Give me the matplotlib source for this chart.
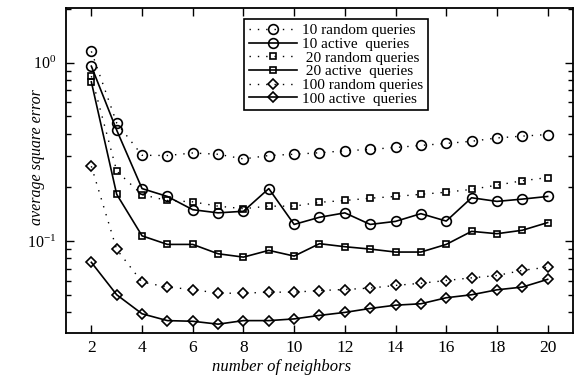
import numpy as np
import matplotlib
matplotlib.use("Agg")
import matplotlib.pyplot as plt
from matplotlib.ticker import LogLocator, NullFormatter

plt.rcParams['font.family'] = ['Liberation Serif', 'DejaVu Serif']
plt.rcParams['mathtext.fontset'] = 'stix'

neighbors = list(range(2, 21))

# (log axis)
rand10 = [1.16, 0.46, 0.303, 0.302, 0.312, 0.307, 0.289, 0.302, 0.307, 0.313,
          0.321, 0.327, 0.335, 0.344, 0.353, 0.363, 0.379, 0.388, 0.396]
act10 = [0.958, 0.419, 0.197, 0.178, 0.150, 0.144, 0.147, 0.197, 0.124, 0.136,
         0.144, 0.124, 0.129, 0.1425, 0.1295, 0.175, 0.167, 0.172, 0.178]
rand20 = [0.842, 0.247, 0.182, 0.169, 0.166, 0.157, 0.152, 0.157, 0.157, 0.165,
          0.169, 0.174, 0.178, 0.183, 0.188, 0.195, 0.206, 0.218, 0.227]
act20 = [0.782, 0.183, 0.107, 0.0958, 0.0958, 0.0849, 0.0813, 0.0887, 0.0824, 0.0967,
         0.093, 0.0902, 0.0868, 0.0868, 0.0958, 0.1134, 0.110, 0.115, 0.127]
rand100 = [0.263, 0.0898, 0.0589, 0.0552, 0.0535, 0.051, 0.051, 0.0517, 0.0517, 0.0528,
           0.0535, 0.0545, 0.0564, 0.058, 0.0601, 0.0622, 0.0641, 0.0685, 0.0714]
act100 = [0.076, 0.050, 0.0391, 0.0358, 0.0355, 0.0342, 0.0358, 0.0358, 0.0366, 0.0383,
          0.0398, 0.0419, 0.0437, 0.0445, 0.0481, 0.050, 0.0533, 0.0552, 0.061]

labels = ["10 random queries", "10 active  queries", " 20 random queries",
          " 20 active  queries", "100 random queries", "100 active  queries"]

fig = plt.figure(figsize=(5.82, 3.78), dpi=100)
ax = fig.add_axes([0.1134, 0.119, 0.8711, 0.8598])

dots = (0, (1, 5))
ax.plot(neighbors, rand10, color='k', ls=dots, lw=1, marker='o', ms=7, mfc='none', mew=1.2, label=labels[0])
ax.plot(neighbors, act10, color='k', ls='-', lw=1.2, marker='o', ms=7, mfc='none', mew=1.2, label=labels[1])
ax.plot(neighbors, rand20, color='k', ls=dots, lw=1, marker='s', ms=4.5, mfc='none', mew=1.2, label=labels[2])
ax.plot(neighbors, act20, color='k', ls='-', lw=1.2, marker='s', ms=4.5, mfc='none', mew=1.2, label=labels[3])
ax.plot(neighbors, rand100, color='k', ls=dots, lw=1, marker='D', ms=5, mfc='none', mew=1.2, label=labels[4])
ax.plot(neighbors, act100, color='k', ls='-', lw=1.2, marker='D', ms=5, mfc='none', mew=1.2, label=labels[5])

ax.set_yscale('log')
ax.set_xlim(1, 21)
ax.set_ylim(0.0305, 2.03)
ax.set_xticks(range(2, 21, 2))
ax.yaxis.set_major_locator(LogLocator(base=10))
ax.yaxis.set_minor_locator(LogLocator(base=10, subs=np.arange(2, 10)))
ax.yaxis.set_minor_formatter(NullFormatter())

ax.tick_params(which='both', direction='in', top=True, right=True, width=1)
ax.tick_params(which='major', length=6)
ax.tick_params(which='minor', length=3.5)
ax.tick_params(axis='x', labelsize=12.5, pad=5)
ax.tick_params(axis='y', labelsize=11.5, pad=7)
for s in ax.spines.values():
    s.set_linewidth(1.3)

ax.set_xlabel('number of neighbors', fontsize=12, style='italic')
ax.set_ylabel('average square error', fontsize=11.5, style='italic')
ax.xaxis.set_label_coords(0.425, -0.08)
ax.yaxis.set_label_coords(-0.042, 0.54)

leg = ax.legend(loc='upper left', bbox_to_anchor=(0.351, 0.966), fontsize=11,
                labelspacing=0.0, handletextpad=0.3, handlelength=3.2,
                borderpad=0.3, borderaxespad=0, fancybox=False, framealpha=1,
                edgecolor='k')
leg.get_frame().set_linewidth(1.2)

fig.savefig('out.png', dpi=100)
